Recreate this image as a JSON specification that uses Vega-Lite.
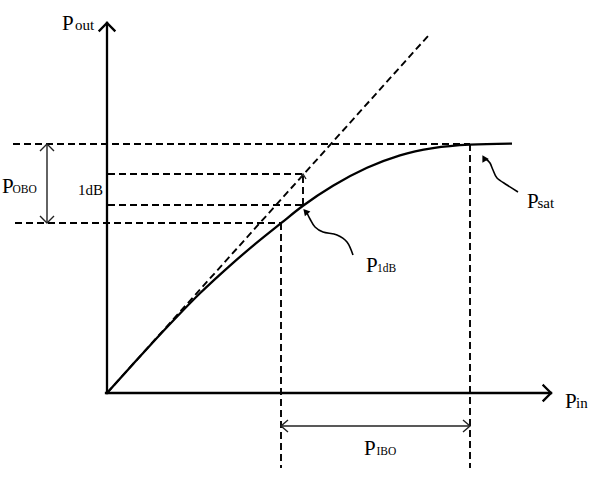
{
  "$schema": "https://vega.github.io/schema/vega-lite/v6.json",
  "width": 599,
  "height": 487,
  "padding": 0,
  "autosize": "none",
  "background": "white",
  "config": {"view": {"stroke": null}},
  "datasets": {
    "axes": [
      {"id": "yaxis", "ord": 0, "x": 107, "y": 393},
      {"id": "yaxis", "ord": 1, "x": 107, "y": 23},
      {"id": "yhead", "ord": 0, "x": 99.5, "y": 30.5},
      {"id": "yhead", "ord": 1, "x": 107, "y": 23},
      {"id": "yhead", "ord": 2, "x": 114.5, "y": 30.5},
      {"id": "xaxis", "ord": 0, "x": 106, "y": 393},
      {"id": "xaxis", "ord": 1, "x": 551, "y": 393},
      {"id": "xhead", "ord": 0, "x": 543.5, "y": 385.5},
      {"id": "xhead", "ord": 1, "x": 551, "y": 393},
      {"id": "xhead", "ord": 2, "x": 543.5, "y": 400.5}
    ],
    "curve": [
      {"x": 107, "y": 393},
      {"x": 130, "y": 367.5},
      {"x": 150, "y": 345.5},
      {"x": 175, "y": 318.8},
      {"x": 200, "y": 293.3},
      {"x": 230, "y": 265.6},
      {"x": 255, "y": 244.1},
      {"x": 281, "y": 223.2},
      {"x": 303, "y": 205.8},
      {"x": 333, "y": 185.8},
      {"x": 367, "y": 167.8},
      {"x": 400, "y": 155.3},
      {"x": 433, "y": 148.1},
      {"x": 470, "y": 144.6},
      {"x": 512, "y": 143.6}
    ],
    "dashed": [
      {"id": "linear", "ord": 0, "x": 107, "y": 393},
      {"id": "linear", "ord": 1, "x": 428, "y": 36},
      {"id": "sat", "ord": 0, "x": 13, "y": 144},
      {"id": "sat", "ord": 1, "x": 470, "y": 144},
      {"id": "up1db", "ord": 0, "x": 108, "y": 174},
      {"id": "up1db", "ord": 1, "x": 303, "y": 174},
      {"id": "lo1db", "ord": 0, "x": 108, "y": 205},
      {"id": "lo1db", "ord": 1, "x": 303, "y": 205},
      {"id": "v1db", "ord": 0, "x": 303, "y": 205},
      {"id": "v1db", "ord": 1, "x": 303, "y": 175},
      {"id": "obo", "ord": 0, "x": 15, "y": 223},
      {"id": "obo", "ord": 1, "x": 281, "y": 223},
      {"id": "vin1", "ord": 0, "x": 281, "y": 223},
      {"id": "vin1", "ord": 1, "x": 281, "y": 468},
      {"id": "vsat", "ord": 0, "x": 470, "y": 144},
      {"id": "vsat", "ord": 1, "x": 470, "y": 468}
    ],
    "thin": [
      {"id": "oboline", "ord": 0, "x": 47, "y": 145},
      {"id": "oboline", "ord": 1, "x": 47, "y": 222},
      {"id": "obotop", "ord": 0, "x": 40, "y": 151},
      {"id": "obotop", "ord": 1, "x": 47, "y": 144},
      {"id": "obotop", "ord": 2, "x": 54, "y": 151},
      {"id": "obobot", "ord": 0, "x": 40, "y": 216},
      {"id": "obobot", "ord": 1, "x": 47, "y": 223},
      {"id": "obobot", "ord": 2, "x": 54, "y": 216},
      {"id": "iboline", "ord": 0, "x": 282, "y": 426},
      {"id": "iboline", "ord": 1, "x": 469, "y": 426},
      {"id": "iboleft", "ord": 0, "x": 288, "y": 420},
      {"id": "iboleft", "ord": 1, "x": 281, "y": 426},
      {"id": "iboleft", "ord": 2, "x": 288, "y": 432},
      {"id": "iboright", "ord": 0, "x": 463, "y": 420},
      {"id": "iboright", "ord": 1, "x": 470, "y": 426},
      {"id": "iboright", "ord": 2, "x": 463, "y": 432},
      {"id": "db1head", "ord": 0, "x": 300, "y": 179},
      {"id": "db1head", "ord": 1, "x": 303, "y": 174},
      {"id": "db1head", "ord": 2, "x": 306, "y": 179}
    ],
    "curly": [
      {"id": "p1db", "ord": 0, "x": 353, "y": 255},
      {"id": "p1db", "ord": 1, "x": 347, "y": 242},
      {"id": "p1db", "ord": 2, "x": 337, "y": 235},
      {"id": "p1db", "ord": 3, "x": 323, "y": 232},
      {"id": "p1db", "ord": 4, "x": 315, "y": 227},
      {"id": "p1db", "ord": 5, "x": 310, "y": 219},
      {"id": "p1db", "ord": 6, "x": 307, "y": 213},
      {"id": "psat", "ord": 0, "x": 518, "y": 192},
      {"id": "psat", "ord": 1, "x": 507, "y": 185},
      {"id": "psat", "ord": 2, "x": 497, "y": 178},
      {"id": "psat", "ord": 3, "x": 493, "y": 170},
      {"id": "psat", "ord": 4, "x": 490, "y": 163},
      {"id": "psat", "ord": 5, "x": 486, "y": 159}
    ],
    "heads": [
      {"id": "p1db", "x": 305.5, "y": 211.5},
      {"id": "psat", "x": 484, "y": 158}
    ],
    "labels": [
      {"name": "out", "part": "P", "text": "P", "x": 62, "y": 30},
      {"name": "out", "part": "sub", "text": "out", "x": 75, "y": 30},
      {"name": "obo", "part": "P", "text": "P", "x": 2, "y": 193},
      {"name": "obo", "part": "caps", "text": "OBO", "x": 12.5, "y": 193},
      {"name": "db", "part": "mid", "text": "1dB", "x": 78, "y": 195},
      {"name": "p1db", "part": "P", "text": "P", "x": 366, "y": 272},
      {"name": "p1db", "part": "caps", "text": "1dB", "x": 377, "y": 272},
      {"name": "sat", "part": "P", "text": "P", "x": 527, "y": 208},
      {"name": "sat", "part": "sub", "text": "sat", "x": 537.5, "y": 208},
      {"name": "in", "part": "P", "text": "P", "x": 565, "y": 408},
      {"name": "in", "part": "sub", "text": "in", "x": 576, "y": 408},
      {"name": "ibo", "part": "P", "text": "P", "x": 364, "y": 455},
      {"name": "ibo", "part": "caps", "text": "IBO", "x": 376.5, "y": 455}
    ]
  },
  "encoding": {
    "x": {"field": "x", "type": "quantitative", "axis": null, "scale": {"domain": [0, 599], "nice": false, "zero": false}},
    "y": {"field": "y", "type": "quantitative", "axis": null, "scale": {"domain": [0, 487], "nice": false, "zero": false, "reverse": true}}
  },
  "layer": [
    {
      "data": {"name": "dashed"},
      "mark": {"type": "line", "color": "black", "strokeWidth": 1.9, "strokeDash": [7, 4], "strokeCap": "butt"},
      "encoding": {"detail": {"field": "id"}, "order": {"field": "ord", "type": "quantitative"}}
    },
    {
      "data": {"name": "axes"},
      "mark": {"type": "line", "color": "black", "strokeWidth": 2.3, "strokeCap": "square", "strokeJoin": "miter"},
      "encoding": {"detail": {"field": "id"}, "order": {"field": "ord", "type": "quantitative"}}
    },
    {
      "data": {"name": "curve"},
      "mark": {"type": "line", "color": "black", "strokeWidth": 2.3, "interpolate": "monotone"},
      "encoding": {}
    },
    {
      "data": {"name": "thin"},
      "mark": {"type": "line", "color": "#222", "strokeWidth": 1.4},
      "encoding": {"detail": {"field": "id"}, "order": {"field": "ord", "type": "quantitative"}}
    },
    {
      "data": {"name": "curly"},
      "mark": {"type": "line", "color": "black", "strokeWidth": 1.6, "interpolate": "cardinal"},
      "encoding": {"detail": {"field": "id"}, "order": {"field": "ord", "type": "quantitative"}}
    },
    {
      "data": {"name": "heads"},
      "transform": [{"filter": "datum.id == 'p1db'"}],
      "mark": {"type": "point", "shape": "triangle-up", "filled": true, "color": "black", "size": 55, "angle": -42, "opacity": 1},
      "encoding": {}
    },
    {
      "data": {"name": "heads"},
      "transform": [{"filter": "datum.id == 'psat'"}],
      "mark": {"type": "point", "shape": "triangle-up", "filled": true, "color": "black", "size": 55, "angle": -30, "opacity": 1},
      "encoding": {}
    },
    {
      "data": {"name": "labels"},
      "transform": [{"filter": "datum.part == 'P'"}],
      "mark": {"type": "text", "font": "Liberation Serif", "fontSize": 21, "align": "left", "baseline": "alphabetic", "color": "black"},
      "encoding": {"text": {"field": "text"}}
    },
    {
      "data": {"name": "labels"},
      "transform": [{"filter": "datum.part == 'sub'"}],
      "mark": {"type": "text", "font": "Liberation Serif", "fontSize": 15, "align": "left", "baseline": "alphabetic", "color": "black"},
      "encoding": {"text": {"field": "text"}}
    },
    {
      "data": {"name": "labels"},
      "transform": [{"filter": "datum.part == 'caps'"}],
      "mark": {"type": "text", "font": "Liberation Serif", "fontSize": 11.5, "align": "left", "baseline": "alphabetic", "color": "black"},
      "encoding": {"text": {"field": "text"}}
    },
    {
      "data": {"name": "labels"},
      "transform": [{"filter": "datum.part == 'mid'"}],
      "mark": {"type": "text", "font": "Liberation Serif", "fontSize": 15, "align": "left", "baseline": "alphabetic", "color": "black"},
      "encoding": {"text": {"field": "text"}}
    }
  ]
}
